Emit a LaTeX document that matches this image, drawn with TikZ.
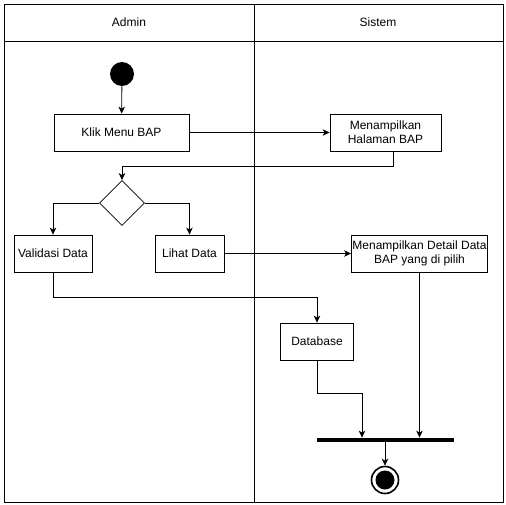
\documentclass[tikz,border=0pt]{standalone}
\usepackage{fontspec}
\setmainfont{Liberation Sans}
\usetikzlibrary{positioning, shapes.geometric, arrows.meta}
\tikzstyle{aksi} = [rectangle, minimum height=37pt, text centered, align=center, draw=black, inner sep=1pt]
\tikzstyle{pilihan} = [diamond, minimum width=45pt, minimum height=45pt, inner sep=0pt, draw=black]
\tikzstyle{mulai} = [circle, fill=black, minimum size=24pt, inner sep=0pt]
\tikzstyle{selesai} = [circle, draw=black, line width=1.6pt, minimum size=27pt, inner sep=0pt, path picture={\fill[black] (path picture bounding box.center) circle (9.5pt);}]
\tikzstyle{batang} = [rectangle, fill=black, minimum width=137pt, minimum height=4pt, inner sep=0pt]
\tikzstyle{arrow} = [->, >={Stealth[length=7pt, width=6.5pt, inset=2pt]}]
\tikzstyle{every node}=[font=\fontsize{12}{14}\selectfont]

\begin{document}
\begin{tikzpicture}[x=1pt, y=-1pt, line width=0.8pt]
  		\useasboundingbox (0,0) rectangle (506,504);
  		%swimlane
  		\draw (4,4) rectangle (503,502);
  		\draw (4,41) -- (503,41);
  		\draw (254,4) -- (254,502);
  		\node (lane1) at (129,22) {Admin};
  		\node (lane2) at (378,22) {Sistem};
  		
  		%aktivitas
  		\node (start1) [mulai] at (122,74) {};
  		\node (klik) [aksi, minimum width=135pt] at (121.5,132.5) {Klik Menu BAP};
  		\node (halaman) [aksi, minimum width=111pt] at (385.5,132.5) {Menampilkan\\Halaman BAP};
  		\node (dec1) [pilihan] at (122,203) {};
  		\node (validasi) [aksi, minimum width=78pt] at (53,253.5) {Validasi Data};
  		\node (lihat) [aksi, minimum width=69pt] at (189.5,253.5) {Lihat Data};
  		\node (detail) [aksi, minimum width=135pt] at (419.5,253.5) {Menampilkan Detail Data\\BAP yang di pilih};
  		\node (db) [aksi, minimum width=73pt] at (317,341.5) {Database};
  		\node (bar) [batang] at (385,440) {};
  		\node (stop1) [selesai] at (385,480) {};
  		
  		%panah
  		\draw [arrow](start1) -- (klik);
  		\draw [arrow](klik) -- (halaman);
  		\draw [arrow]([xshift=7.5pt]halaman.south) -- ++(0,15) -| (dec1.north);
  		\draw [arrow](dec1.west) -| (validasi.north);
  		\draw [arrow](dec1.east) -| (lihat.north);
  		\draw [arrow](lihat) -- (detail);
  		\draw [arrow](validasi.south) -- ++(0,25) -| (db.north);
  		\draw [arrow](db.south) -- ++(0,33) -| ([xshift=-23pt]bar.north);
  		\draw [arrow](detail.south) -- (detail.south |- bar.north);
  		\draw [arrow](bar) -- (stop1);
  	\end{tikzpicture}
\end{document}
